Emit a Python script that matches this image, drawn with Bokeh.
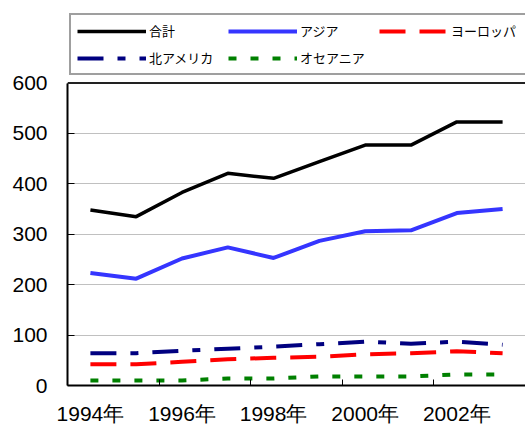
from bokeh.plotting import figure
from bokeh.models import Legend, LegendItem, FixedTicker, Span, Range1d
from bokeh.embed import file_html
from bokeh.resources import INLINE

years = [1994, 1995, 1996, 1997, 1998, 1999, 2000, 2001, 2002, 2003]
year_labels = [f"{y}年" for y in years]
total = [348, 335, 383, 421, 411, 444, 477, 477, 523, 523]
asia = [223, 212, 252, 274, 253, 287, 306, 308, 342, 350]
europe = [42, 42, 47, 52, 55, 57, 62, 64, 68, 64]
n_america = [64, 64, 69, 73, 77, 82, 87, 83, 87, 81]
oceania = [10, 10, 10, 14, 14, 18, 18, 18, 22, 22]
series_names = ["合計", "アジア", "ヨーロッパ", "北アメリカ", "オセアニア"]
y_ticks = [0, 100, 200, 300, 400, 500, 600]

xs = list(range(len(years)))
y_max = y_ticks[-1]

FONT = "Liberation Sans"
W, H = 525, 427
LEFT, BOTTOM, PLOT_H = 67, 40, 304
FRAME_H = H - BOTTOM  # frame extends to the top so the legend can sit above the plot area

p = figure(width=W, height=H, output_backend="svg", toolbar_location=None,
           x_range=Range1d(-0.5, len(years) - 0.5),
           y_range=Range1d(0, y_max * FRAME_H / PLOT_H),
           min_border_left=LEFT, min_border_right=0, min_border_top=0, min_border_bottom=BOTTOM)
p.outline_line_color = None
p.background_fill_color = "white"

# axes
p.yaxis.ticker = FixedTicker(ticks=y_ticks)
p.yaxis.bounds = (0, y_max)
p.yaxis.major_tick_in = 7
p.yaxis.major_tick_out = 0
p.yaxis.minor_tick_line_color = None
p.yaxis.axis_line_width = 2
p.yaxis.axis_line_color = "black"
p.yaxis.major_tick_line_color = "black"
p.yaxis.major_label_text_font = FONT
p.yaxis.major_label_text_font_size = "21px"
p.yaxis.major_label_text_color = "black"
p.yaxis.major_label_standoff = 20

p.xaxis.ticker = FixedTicker(ticks=xs[::2], minor_ticks=[i + 1.5 for i in xs[:-2:2]])
p.xaxis.major_label_overrides = {i: year_labels[i] for i in xs[::2]}
p.xaxis.major_tick_in = 0
p.xaxis.major_tick_out = 0
p.xaxis.minor_tick_in = 6
p.xaxis.minor_tick_out = 0
p.xaxis.minor_tick_line_color = "black"
p.xaxis.axis_line_width = 2
p.xaxis.axis_line_color = "black"
p.xaxis.major_label_text_font = FONT
p.xaxis.major_label_text_font_size = "21px"
p.xaxis.major_label_text_color = "black"
p.xaxis.major_label_standoff = 16

p.xgrid.grid_line_color = None
p.ygrid.ticker = FixedTicker(ticks=y_ticks[:-1])
p.ygrid.grid_line_color = "#c0c0c0"
p.ygrid.grid_line_width = 1

top = Span(location=y_max, dimension="width", line_color="#222222", line_width=2)
p.add_layout(top)

r_total = p.line(xs, total, line_color="black", line_width=3.5)
r_asia = p.line(xs, asia, line_color="#3535ff", line_width=4)
r_eu = p.line(xs, europe, line_color="#ff0000", line_width=4, line_dash="26 14")
r_na = p.line(xs, n_america, line_color="#000080", line_width=4, line_dash="26 14 8 14")
r_oc = p.line(xs, oceania, line_color="#008000", line_width=4, line_dash="8 14")

items = [LegendItem(label=n, renderers=[r]) for n, r in
         zip(series_names, [r_total, r_asia, r_eu, r_na, r_oc])]
legend = Legend(items=items, location=(2, 310), orientation="horizontal", ncols=3,
                glyph_width=69, glyph_height=16, label_height=16, label_width=71,
                label_standoff=3, spacing=8, padding=6, margin=0,
                label_text_font="Noto Sans CJK JP", label_text_font_size="13px",
                label_text_color="black",
                border_line_color="#404040", border_line_width=2,
                background_fill_color="white", background_fill_alpha=1.0)
p.add_layout(legend, "center")

open("out.html", "w").write(file_html(p, INLINE))
